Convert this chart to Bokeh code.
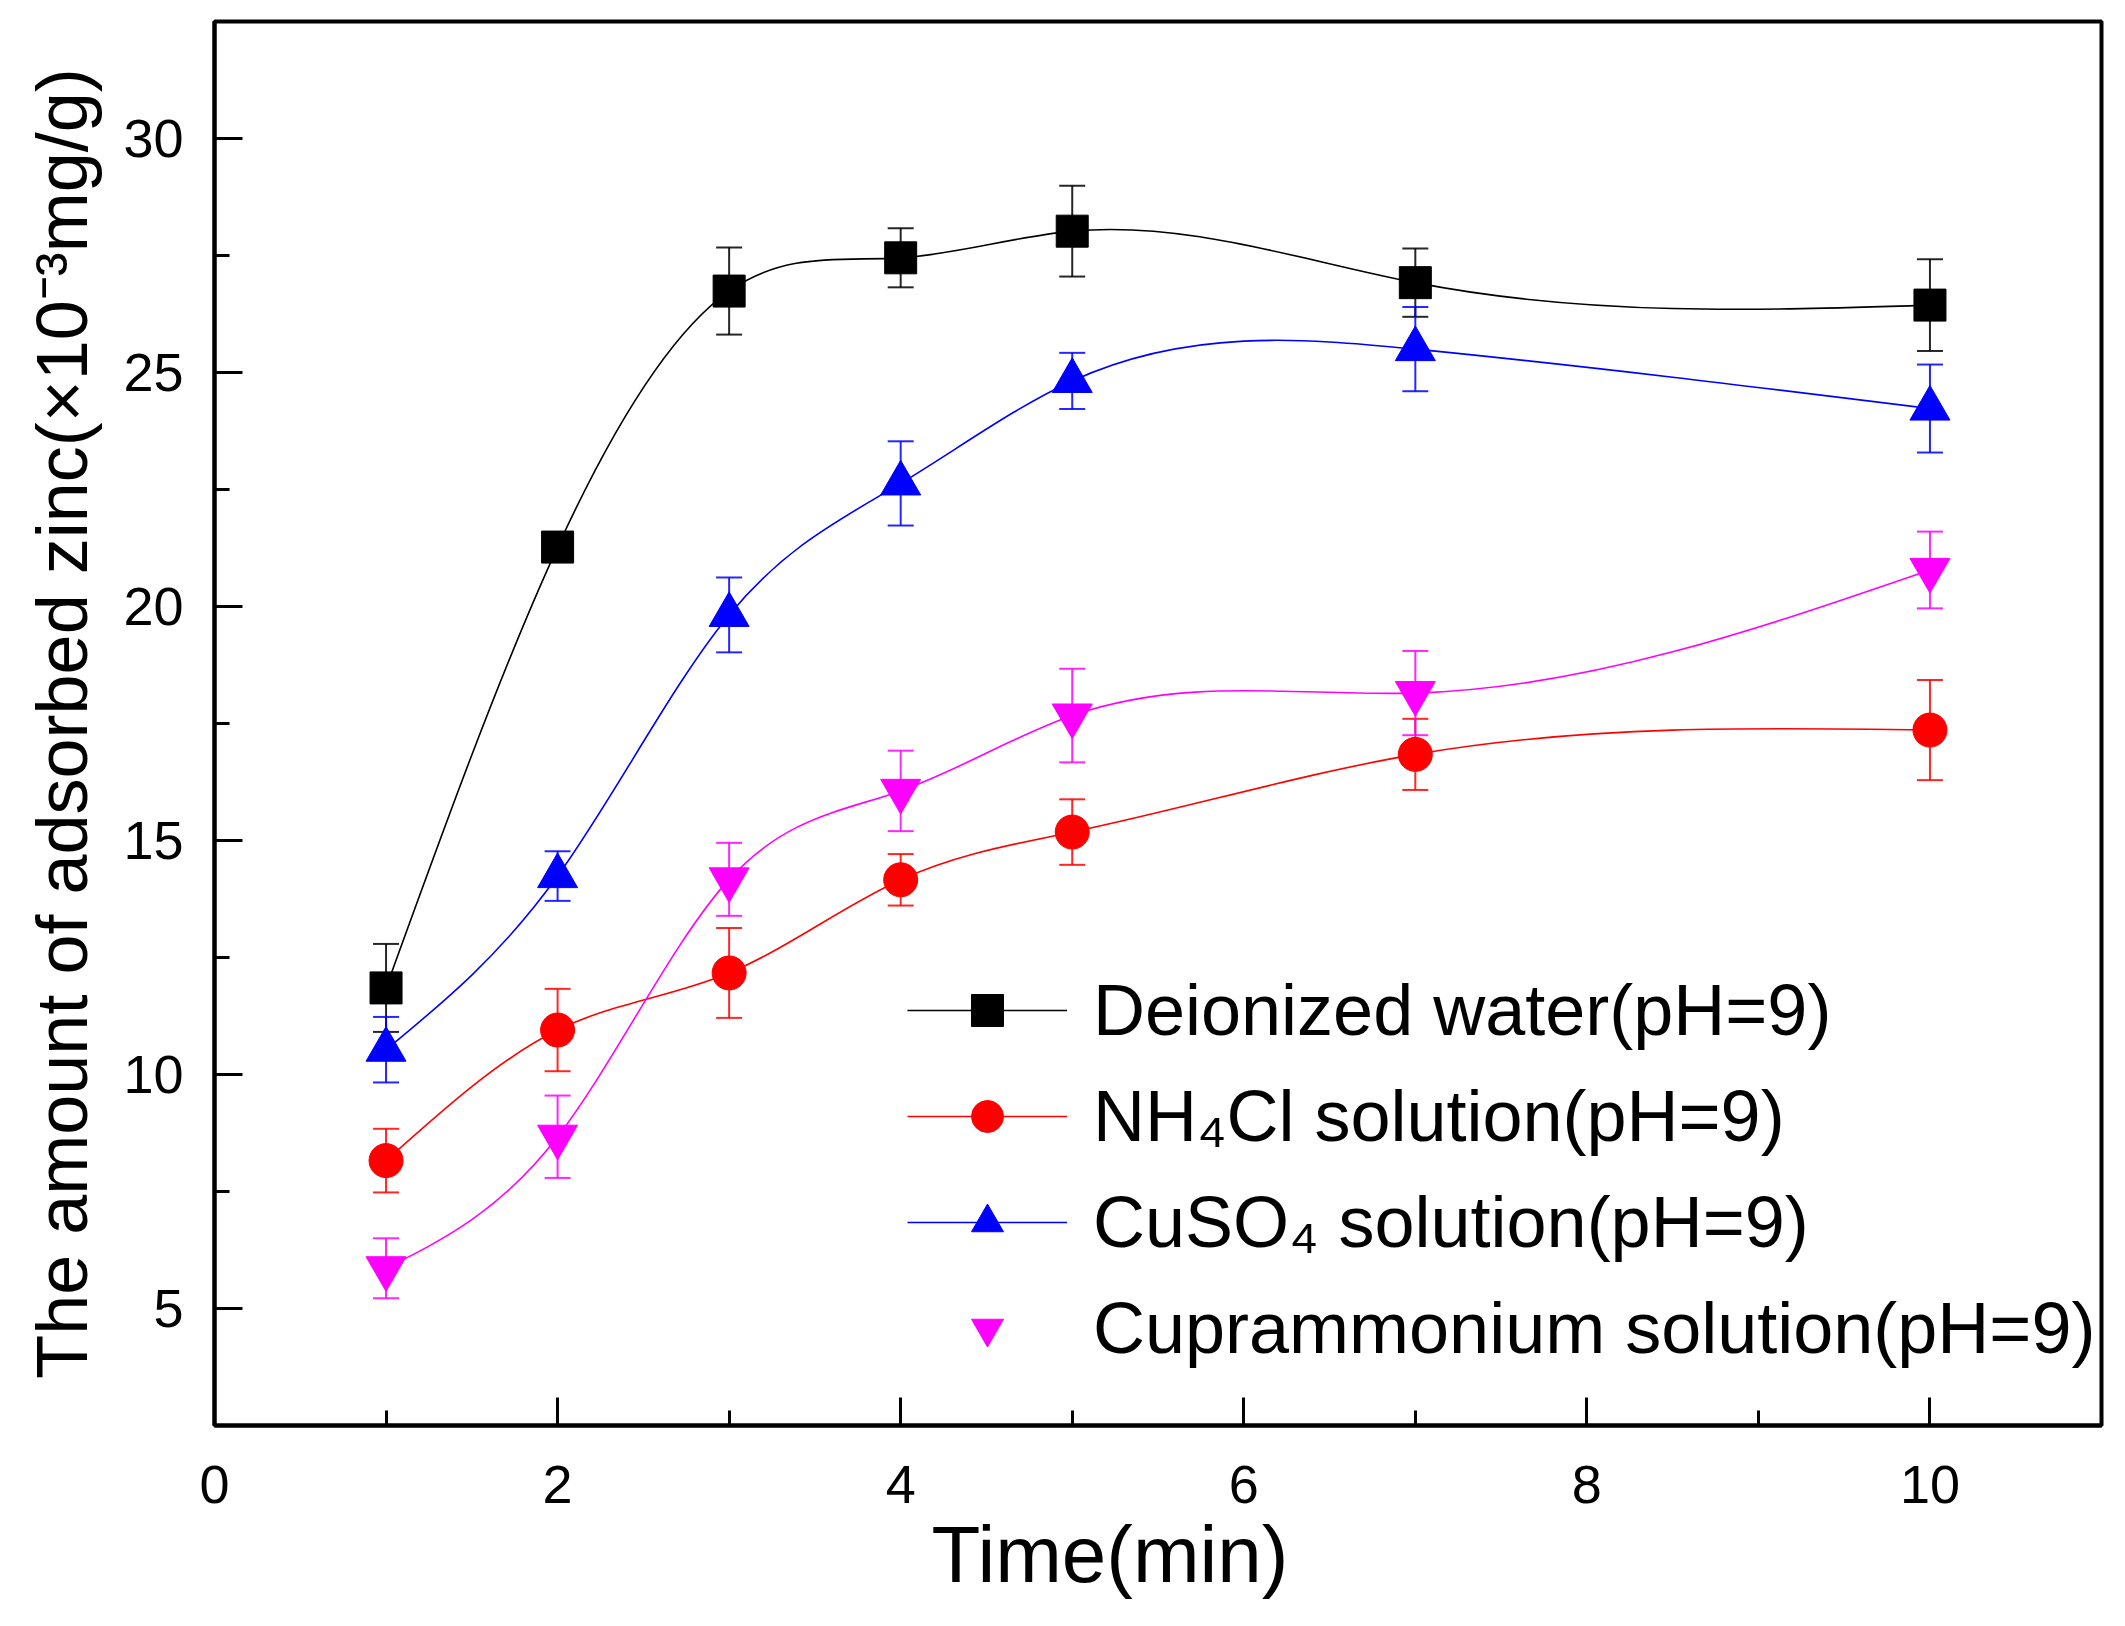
import numpy as np
from bokeh.plotting import figure
from bokeh.models import (ColumnDataSource, Whisker, TeeHead, Legend, LegendItem,
                          FixedTicker, Range1d, Title)
from bokeh.embed import file_html
from bokeh.resources import INLINE

# ---------------- data ----------------
time_min = [1, 2, 3, 4, 5, 7, 10]

deionized = [11.85, 21.27, 26.74, 27.45, 28.02, 26.92, 26.44]
deionized_err = [0.94, 0.30, 0.93, 0.63, 0.97, 0.73, 0.98]

nh4cl = [8.16, 10.95, 12.17, 14.16, 15.18, 16.84, 17.36]
nh4cl_err = [0.68, 0.88, 0.96, 0.55, 0.70, 0.76, 1.07]

cuso4 = [10.53, 14.24, 19.82, 22.63, 24.82, 25.50, 24.23]
cuso4_err = [0.70, 0.53, 0.80, 0.90, 0.60, 0.90, 0.94]

cuprammonium = [5.86, 8.67, 14.17, 16.06, 17.67, 18.15, 20.78]
cuprammonium_err = [0.64, 0.88, 0.78, 0.86, 1.00, 0.90, 0.82]

series_labels = ["Deionized water(pH=9)", "NH\u2084Cl solution(pH=9)",
                 "CuSO\u2084 solution(pH=9)", "Cuprammonium solution(pH=9)"]
x_ticks = [0, 2, 4, 6, 8, 10]
x_minor = [1, 3, 5, 7, 9]
y_ticks = [5, 10, 15, 20, 25, 30]
y_minor = [2.5, 7.5, 12.5, 17.5, 22.5, 27.5, 32.5]

x_title = "Time(min)"
y_title = "The amount of adsorbed zinc(\u00d710\u207b\u00b3mg/g)"

FONT = "Liberation Sans"


def spline_segments(x, y):
    """Natural cubic spline through the data, expressed as Bezier segments."""
    x = np.asarray(x, float)
    y = np.asarray(y, float)
    n = len(x)
    h = np.diff(x)
    A = np.zeros((n, n))
    b = np.zeros(n)
    A[0, 0] = 1.0
    A[-1, -1] = 1.0
    for i in range(1, n - 1):
        A[i, i - 1] = h[i - 1]
        A[i, i] = 2 * (h[i - 1] + h[i])
        A[i, i + 1] = h[i]
        b[i] = 6 * ((y[i + 1] - y[i]) / h[i] - (y[i] - y[i - 1]) / h[i - 1])
    M = np.linalg.solve(A, b)
    slope = (y[1:] - y[:-1]) / h
    d0 = slope - h * (2 * M[:-1] + M[1:]) / 6
    d1 = slope + h * (M[:-1] + 2 * M[1:]) / 6
    return dict(x0=x[:-1], y0=y[:-1], x1=x[1:], y1=y[1:],
                cx0=x[:-1] + h / 3, cy0=y[:-1] + d0 * h / 3,
                cx1=x[1:] - h / 3, cy1=y[1:] - d1 * h / 3)


p = figure(width=2110, height=1618,
           x_range=Range1d(0, 11), y_range=Range1d(2.5, 32.5),
           output_backend="svg", toolbar_location=None,
           min_border_left=214, min_border_right=9,
           min_border_top=21, min_border_bottom=193)

p.background_fill_color = "white"
p.border_fill_color = "white"
p.outline_line_color = "black"
p.outline_line_width = 4
p.xgrid.visible = False
p.ygrid.visible = False

series = [
    (deionized, deionized_err, "black", "square", 32),
    (nh4cl, nh4cl_err, "#ff0000", "circle", 34),
    (cuso4, cuso4_err, "#0000ff", "triangle", 40),
    (cuprammonium, cuprammonium_err, "#ff00ff", "inverted_triangle", 40),
]

items = []
for idx, (vals, errs, color, marker, size) in enumerate(series):
    v = np.asarray(vals, float)
    e = np.asarray(errs, float)
    src = ColumnDataSource(dict(x=time_min, y=vals, upper=v + e, lower=v - e))
    w = Whisker(base="x", upper="upper", lower="lower", source=src,
                line_color=color, line_width=2, line_alpha=0.85,
                upper_head=TeeHead(size=26, line_color=color, line_width=2, line_alpha=0.85),
                lower_head=TeeHead(size=26, line_color=color, line_width=2, line_alpha=0.85))
    p.add_layout(w)
    seg = ColumnDataSource(spline_segments(time_min, vals))
    bez = p.bezier(x0="x0", y0="y0", x1="x1", y1="y1", cx0="cx0", cy0="cy0",
                   cx1="cx1", cy1="cy1", source=seg, line_color=color, line_width=1.6)
    sc = p.scatter("x", "y", source=src, marker=marker, size=size,
                   fill_color=color, line_color=color)
    if idx < 3:
        items.append(LegendItem(label=series_labels[idx], renderers=[bez, sc]))
    else:
        items.append(LegendItem(label=series_labels[idx], renderers=[sc]))

legend = Legend(items=items, location=(693, 56),
                glyph_width=160, glyph_height=80, label_height=80,
                spacing=24, label_standoff=26, padding=0, margin=0,
                border_line_alpha=0, background_fill_alpha=0,
                label_text_font=FONT, label_text_font_size="72px",
                label_text_color="black")
p.add_layout(legend)

# axes
p.xaxis.ticker = FixedTicker(ticks=x_ticks, minor_ticks=x_minor)
p.yaxis.ticker = FixedTicker(ticks=y_ticks, minor_ticks=y_minor)
for ax in (p.xaxis, p.yaxis):
    ax.axis_line_width = 4
    ax.axis_line_color = "black"
    ax.major_tick_in = 28
    ax.major_tick_out = 0
    ax.minor_tick_in = 15
    ax.minor_tick_out = 0
    ax.major_tick_line_width = 3
    ax.minor_tick_line_width = 3
    ax.major_tick_line_color = "black"
    ax.minor_tick_line_color = "black"
    ax.major_label_text_font = FONT
    ax.major_label_text_font_size = "54px"
    ax.major_label_text_color = "black"
    ax.axis_label_text_font = FONT
    ax.axis_label_text_font_style = "normal"
    ax.axis_label_text_color = "black"

p.xaxis.major_label_standoff = 40

# x-axis title (placed as a title below the axis so it can sit slightly left of centre)
xt = Title(text=x_title, align="left", offset=717, vertical_align="top",
           standoff=8, text_font=FONT, text_font_size="80px",
           text_font_style="normal", text_color="black")
p.add_layout(xt, "below")

p.yaxis.axis_label = y_title
p.yaxis.axis_label_text_font_size = "72px"
p.yaxis.major_label_standoff = 31
p.yaxis.axis_label_standoff = 18

open("out.html", "w").write(file_html(p, INLINE))
